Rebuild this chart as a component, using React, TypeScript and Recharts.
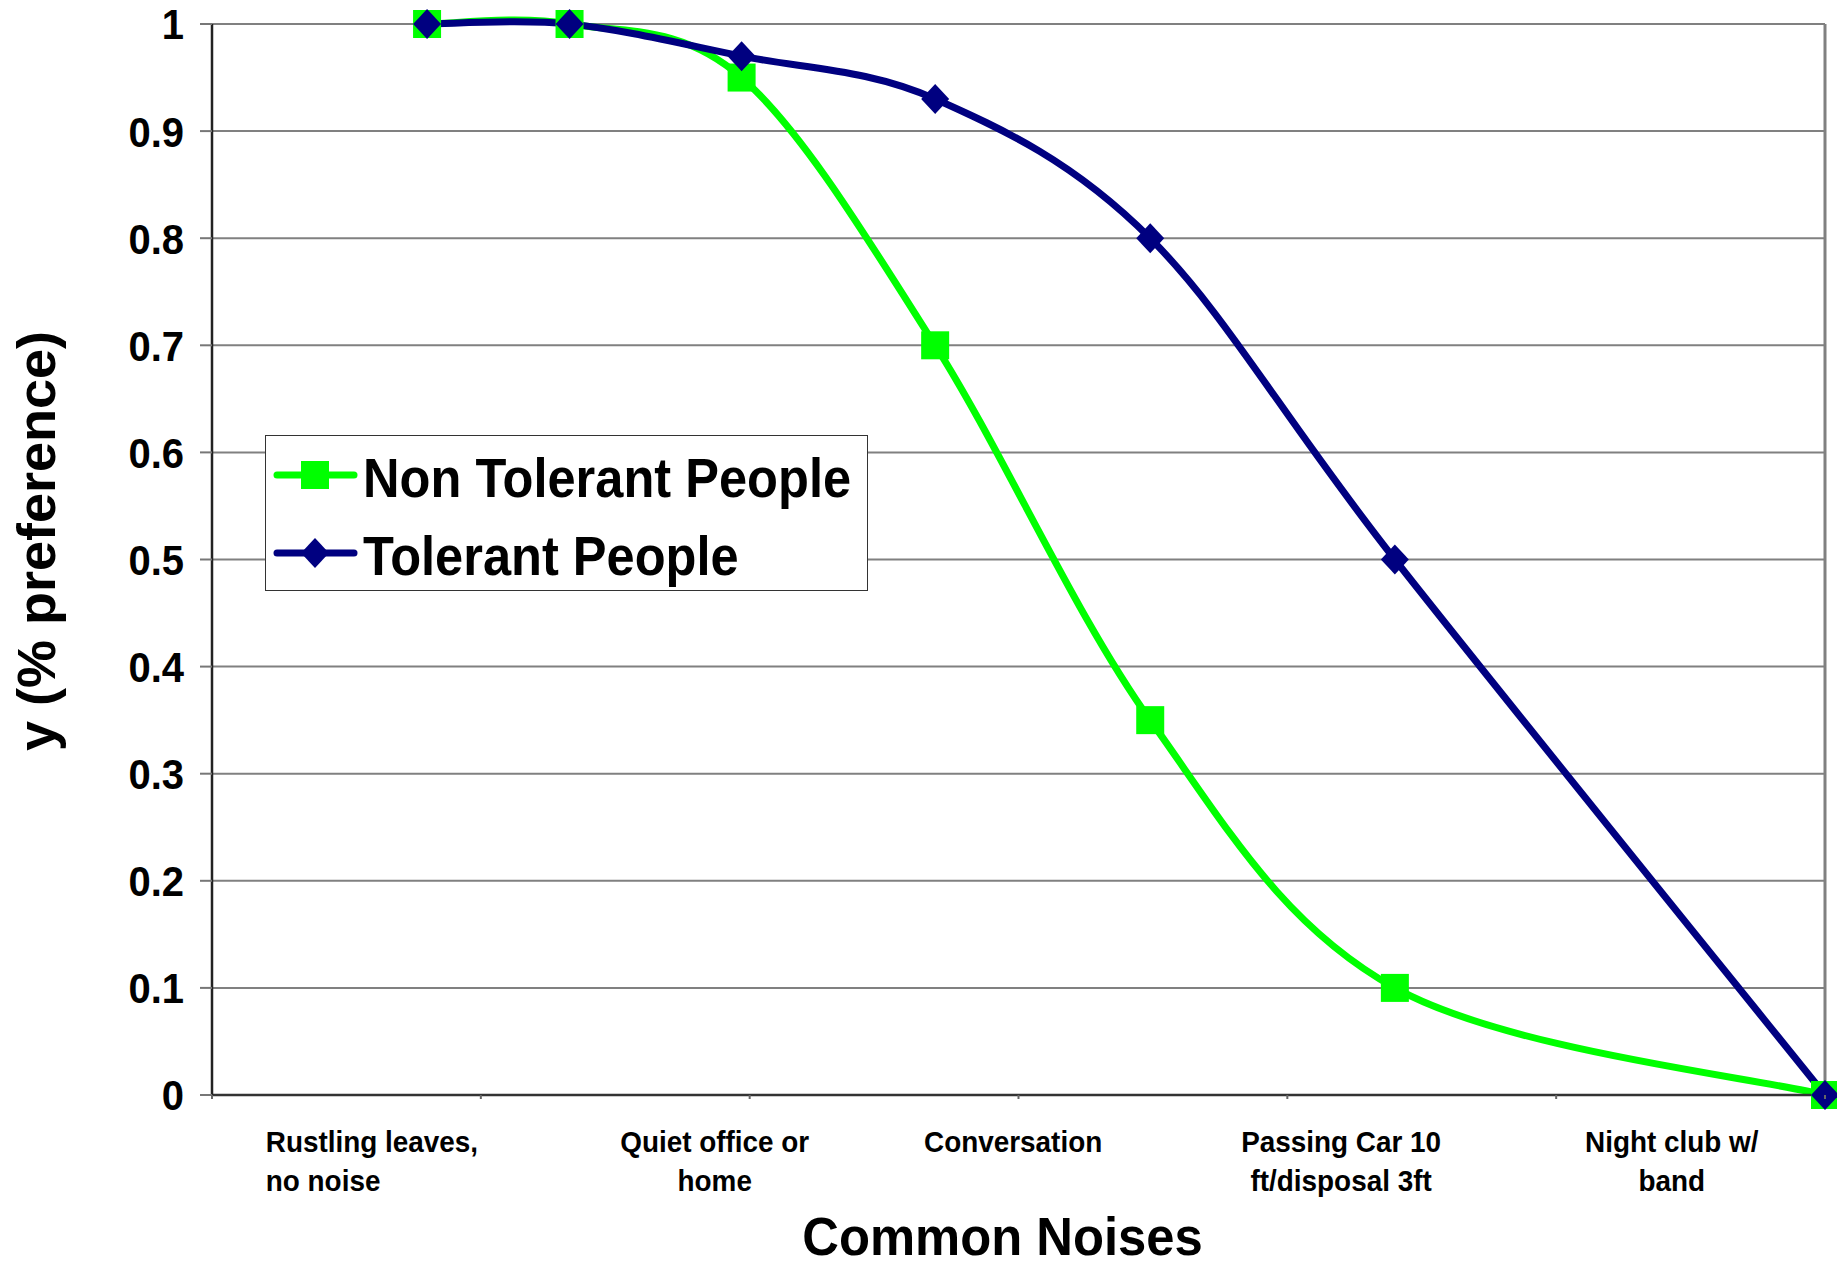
import { CartesianGrid, Legend, Line, LineChart, ReferenceLine, XAxis, YAxis } from "recharts";

// x positions of the measured noises (chart units, 0..6 across the axis)
const noiseLevel = [0.8, 1.33, 1.97, 2.69, 3.49, 4.4, 6];
const nonTolerant = [1, 1, 0.95, 0.7, 0.35, 0.1, 0];
const tolerant = [1, 1, 0.97, 0.93, 0.8, 0.5, 0];

const yTicks = [0, 0.1, 0.2, 0.3, 0.4, 0.5, 0.6, 0.7, 0.8, 0.9, 1];
const xMarks = [0, 1, 2, 3, 4, 5, 6];

const noiseLabels = [
  ["Rustling leaves,", "no noise"],
  ["Quiet office or", "home"],
  ["Conversation"],
  ["Passing Car 10", "ft/disposal 3ft"],
  ["Night club w/", "band"],
];
const noiseLabelAt = [0.2, 1.87, 2.98, 4.2, 5.43];

const GREEN = "#00FF00";
const NAVY = "#000080";
const FONT = "'Liberation Sans', Arial, sans-serif";

const data = noiseLevel.map((x, i) => ({
  x,
  nonTolerant: nonTolerant[i],
  tolerant: tolerant[i],
}));

const xTicks = [...xMarks, ...noiseLabelAt].sort((a, b) => a - b);

// Excel-style smoothed line (Catmull-Rom through the points)
function excelSmooth(context: any) {
  let pts: [number, number][] = [];
  return {
    areaStart() {},
    areaEnd() {},
    lineStart() {
      pts = [];
    },
    point(x: number, y: number) {
      pts.push([+x, +y]);
    },
    lineEnd() {
      const n = pts.length;
      if (!n) return;
      context.moveTo(pts[0][0], pts[0][1]);
      for (let i = 0; i < n - 1; i++) {
        const p0 = pts[Math.max(i - 1, 0)];
        const p1 = pts[i];
        const p2 = pts[i + 1];
        const p3 = pts[Math.min(i + 2, n - 1)];
        context.bezierCurveTo(
          p1[0] + (p2[0] - p0[0]) / 6,
          p1[1] + (p2[1] - p0[1]) / 6,
          p2[0] - (p3[0] - p1[0]) / 6,
          p2[1] - (p3[1] - p1[1]) / 6,
          p2[0],
          p2[1]
        );
      }
    },
  };
}

function squareAt(cx: number, cy: number, key?: string) {
  return <rect key={key} x={cx - 14} y={cy - 14} width={28} height={28} fill={GREEN} />;
}

function diamondAt(cx: number, cy: number, key?: string) {
  return (
    <polygon
      key={key}
      points={`${cx},${cy - 15} ${cx + 14},${cy} ${cx},${cy + 15} ${cx - 14},${cy}`}
      fill={NAVY}
    />
  );
}

function YTick(props: any) {
  const { x, y, payload } = props;
  return (
    <g transform={`translate(${x},${y})`}>
      <text
        transform="scale(0.93,1)"
        textAnchor="end"
        dy="0.36em"
        fontFamily={FONT}
        fontWeight="bold"
        fontSize={43}
        fill="#000"
      >
        {String(payload.value)}
      </text>
    </g>
  );
}

function XTick(props: any) {
  const { x, y, payload } = props;
  const idx = noiseLabelAt.indexOf(payload.value);
  if (idx < 0) {
    return <line x1={x} x2={x} y1={y} y2={y + 4} stroke="#666" strokeWidth={2} />;
  }
  return (
    <g transform={`translate(${x},${y})`}>
      <text
        transform="scale(0.93,1)"
        textAnchor={idx === 0 ? "start" : "middle"}
        fontFamily={FONT}
        fontWeight="bold"
        fontSize={30}
        fill="#000"
      >
        {noiseLabels[idx].map((line, i) => (
          <tspan key={line} x={0} y={57 + i * 39}>
            {line}
          </tspan>
        ))}
      </text>
    </g>
  );
}

function LegendBox(props: any) {
  const items = props.payload || [];
  return (
    <div
      style={{
        width: 603,
        height: 156,
        border: "1.5px solid #333",
        boxSizing: "border-box",
        background: "#fff",
      }}
    >
      <svg width={600} height={153} style={{ display: "block" }}>
        {items.map((item: any, i: number) => {
          const cy = 39 + i * 78;
          const color = i === 0 ? GREEN : NAVY;
          return (
            <g key={item.value}>
              <line x1={11} x2={88} y1={cy} y2={cy} stroke={color} strokeWidth={7} strokeLinecap="round" />
              {i === 0 ? squareAt(49, cy) : diamondAt(49, cy)}
              <g transform={`translate(97,${cy + 22})`}>
                <text
                  transform="scale(0.92,1)"
                  fontFamily={FONT}
                  fontWeight="bold"
                  fontSize={55}
                  fill="#000"
                >
                  {item.value}
                </text>
              </g>
            </g>
          );
        })}
      </svg>
    </div>
  );
}

export default function App() {
  return (
    <div style={{ position: "absolute", left: 0, top: 0, background: "#fff" }}>
      <LineChart
        width={1837}
        height={1269}
        data={data}
        margin={{ top: 24, right: 12, bottom: 0, left: 0 }}
      >
        <CartesianGrid vertical={false} stroke="#808080" strokeWidth={2} />
        <XAxis
          dataKey="x"
          type="number"
          domain={[0, 6]}
          ticks={xTicks}
          interval={0}
          height={174}
          tickSize={0}
          tickMargin={0}
          tickLine={false}
          axisLine={{ stroke: "#333", strokeWidth: 2.5 }}
          tick={<XTick />}
          label={{
            content: (p: any) => {
              const vb = p.viewBox;
              const cx = vb.x + vb.width / 2 - 16;
              return (
                <g transform={`translate(${cx},${vb.y + 160})`}>
                  <text
                    transform="scale(0.94,1)"
                    textAnchor="middle"
                    fontFamily={FONT}
                    fontWeight="bold"
                    fontSize={54}
                    fill="#000"
                  >
                    Common Noises
                  </text>
                </g>
              );
            },
          }}
        />
        <YAxis
          type="number"
          domain={[0, 1]}
          ticks={yTicks}
          interval={0}
          width={212}
          tickSize={12}
          tickMargin={16}
          tickLine={{ stroke: "#777", strokeWidth: 2 }}
          axisLine={{ stroke: "#222", strokeWidth: 2.5 }}
          tick={<YTick />}
          label={{
            content: () => (
              <text
                x={55}
                y={541}
                transform="rotate(-90, 55, 541)"
                textAnchor="middle"
                fontFamily={FONT}
                fontWeight="bold"
                fontSize={54}
                fill="#000"
              >
                y (% preference)
              </text>
            ),
          }}
        />
        <ReferenceLine x={6} stroke="#808080" strokeWidth={3} />
        <Legend
          layout="vertical"
          align="center"
          verticalAlign="middle"
          wrapperStyle={{ left: 265, top: 435, width: 603 }}
          content={<LegendBox />}
        />
        <Line
          dataKey="nonTolerant"
          name="Non Tolerant People"
          type={excelSmooth as any}
          stroke={GREEN}
          strokeWidth={7}
          dot={(p: any) => squareAt(p.cx, p.cy, `g${p.index}`)}
          activeDot={false}
          isAnimationActive={false}
        />
        <Line
          dataKey="tolerant"
          name="Tolerant People"
          type={excelSmooth as any}
          stroke={NAVY}
          strokeWidth={7}
          dot={(p: any) => diamondAt(p.cx, p.cy, `b${p.index}`)}
          activeDot={false}
          isAnimationActive={false}
        />
      </LineChart>
    </div>
  );
}
